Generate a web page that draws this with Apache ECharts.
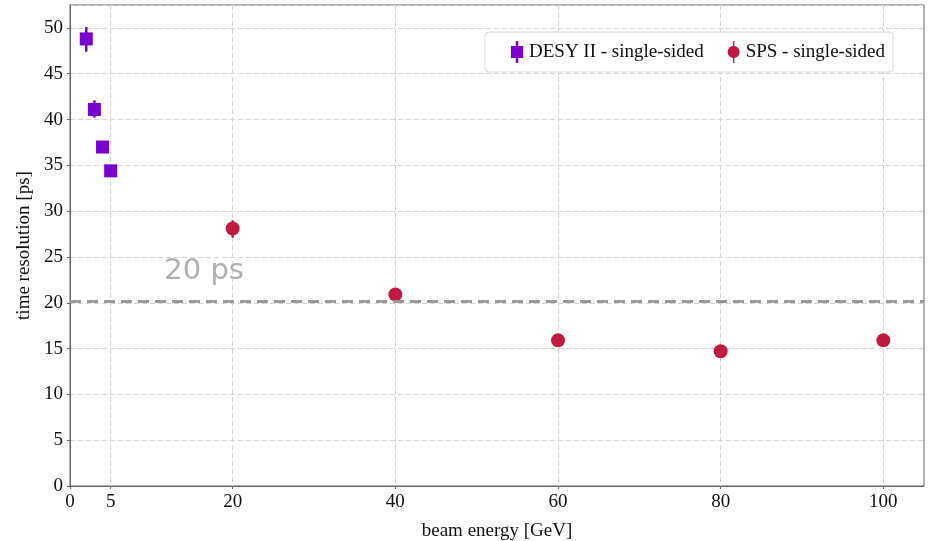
<!DOCTYPE html>
<html>
<head>
<meta charset="utf-8">
<script src="https://cdn.jsdelivr.net/npm/echarts@6/dist/echarts.min.js"></script>
<style>
  html, body { margin: 0; padding: 0; background: #fff; }
  #chart { width: 930px; height: 541px; }
</style>
</head>
<body>
<div id="chart"></div>
<script>
// DESY II (single-sided)
var desyEnergy = [2, 3, 4, 5];
var desyRes = [48.8, 41.1, 37.0, 34.4];
var desyLow = [47.4, 40.2, 37.0, 34.4];
var desyHigh = [50.1, 42.1, 37.0, 34.4];

// SPS (single-sided)
var spsEnergy = [20, 40, 60, 80, 100];
var spsRes = [28.1, 20.9, 15.9, 14.7, 15.9];
var spsLow = [27.1, 20.6, 15.7, 14.5, 15.7];
var spsHigh = [29.0, 21.2, 16.1, 14.9, 16.1];

var xTicks = [0, 5, 20, 40, 60, 80, 100];
var refLine = 20.2;
var refLabel = '20 ps';
var refLabelPos = [11.6, 23.4];

var purple = '#7a00d0';
var crimson = '#c01a3f';
var serif = '"Liberation Serif", "DejaVu Serif", serif';

function pairs(xs, ys) {
    var out = [];
    for (var i = 0; i < xs.length; i++) out.push([xs[i], ys[i]]);
    return out;
}
function errPairs(xs, lo, hi) {
    var out = [];
    for (var i = 0; i < xs.length; i++) out.push([xs[i], lo[i], hi[i]]);
    return out;
}

function errorBar(color) {
    return function (params, api) {
        var lo = api.coord([api.value(0), api.value(1)]);
        var hi = api.coord([api.value(0), api.value(2)]);
        return {
            type: 'line',
            shape: { x1: lo[0], y1: lo[1], x2: hi[0], y2: hi[1] },
            style: { stroke: color, lineWidth: 2.5 }
        };
    };
}

var squareIcon = 'path://M4,0 L6,0 L6,4 L10,4 L10,14 L6,14 L6,18 L4,18 L4,14 L0,14 L0,4 L4,4 Z';
var circleIcon = 'path://M4.4,0 L5.6,0 L5.6,4.05 A5,5 0 0 1 5.6,13.95 L5.6,18 L4.4,18 L4.4,13.95 A5,5 0 0 1 4.4,4.05 Z';

var chart = echarts.init(document.getElementById('chart'));
var option = {
    animation: false,
    grid: {
        left: 70, right: 6, top: 5, bottom: 55,
        outerBoundsMode: 'none', containLabel: false,
        show: true, borderColor: '#666', borderWidth: 1, backgroundColor: '#fff'
    },
    legend: {
        right: 37, top: 32,
        padding: [9, 8, 9, 26],
        itemGap: 24,
        itemWidth: 14, itemHeight: 22,
        backgroundColor: '#fff',
        borderColor: '#d8d8d8', borderWidth: 1, borderRadius: 4,
        textStyle: { fontFamily: serif, fontSize: 19, color: '#111' },
        data: [
            { name: 'DESY II - single-sided', icon: squareIcon, itemStyle: { color: purple } },
            { name: 'SPS - single-sided', icon: circleIcon, itemStyle: { color: crimson } }
        ]
    },
    xAxis: {
        type: 'value', min: 0, max: 105,
        name: 'beam energy [GeV]', nameLocation: 'middle', nameGap: 36,
        nameTextStyle: { fontFamily: serif, fontSize: 19, color: '#111' },
        axisLine: { show: true, lineStyle: { color: '#666' } },
        axisTick: { show: true, length: 3, lineStyle: { color: '#666' }, customValues: xTicks },
        axisLabel: { fontFamily: serif, fontSize: 19, color: '#111', margin: 7, customValues: xTicks },
        splitLine: { show: true, lineStyle: { color: '#d4d4d4', type: [5, 3] } }
    },
    yAxis: {
        type: 'value', min: 0, max: 52.5, interval: 5,
        name: 'time resolution [ps]', nameLocation: 'middle', nameGap: 35,
        nameTextStyle: { fontFamily: serif, fontSize: 19, color: '#111' },
        axisLine: { show: true, lineStyle: { color: '#666' } },
        axisTick: { show: true, length: 3, lineStyle: { color: '#666' } },
        axisLabel: { fontFamily: serif, fontSize: 19, color: '#111', margin: 7, showMaxLabel: false },
        splitLine: { show: true, lineStyle: { color: '#d4d4d4', type: [5, 3] } }
    },
    series: [
        {
            name: 'DESY II - single-sided', type: 'custom',
            renderItem: errorBar(purple),
            data: errPairs(desyEnergy, desyLow, desyHigh),
            itemStyle: { color: purple }, z: 3
        },
        {
            name: 'SPS - single-sided', type: 'custom',
            renderItem: errorBar(crimson),
            data: errPairs(spsEnergy, spsLow, spsHigh),
            itemStyle: { color: crimson }, z: 3
        },
        {
            name: 'DESY II - single-sided', type: 'scatter',
            symbol: 'rect', symbolSize: 13,
            itemStyle: { color: purple, opacity: 1 },
            data: pairs(desyEnergy, desyRes), z: 4,
            markLine: {
                silent: true, symbol: 'none',
                lineStyle: { color: '#999', width: 3, type: [11, 6] },
                label: { show: false },
                data: [{ yAxis: refLine }]
            },
            markPoint: {
                silent: true, symbol: 'circle', symbolSize: 0,
                label: {
                    show: true, formatter: refLabel, position: 'right', distance: 0,
                    fontFamily: '"DejaVu Sans", sans-serif', fontSize: 29, color: '#b0b0b0'
                },
                data: [{ coord: refLabelPos }]
            }
        },
        {
            name: 'SPS - single-sided', type: 'scatter',
            symbol: 'circle', symbolSize: 14,
            itemStyle: { color: crimson, opacity: 1 },
            data: pairs(spsEnergy, spsRes), z: 4
        }
    ]
};
chart.setOption(option);
</script>
</body>
</html>
